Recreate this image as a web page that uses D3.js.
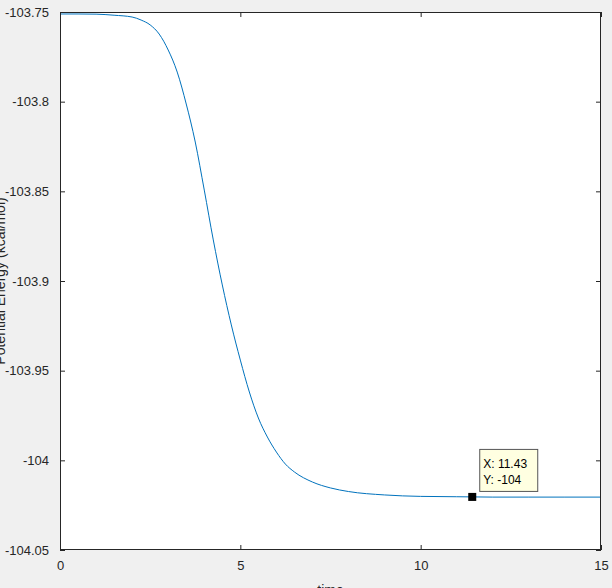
<!DOCTYPE html>
<html>
<head>
<meta charset="utf-8">
<script src="https://cdn.jsdelivr.net/npm/d3@7"></script>
<style>
  html, body { margin: 0; padding: 0; background: #f0f0f0; }
  svg { display: block; font-family: "Liberation Sans", Arial, sans-serif; }
</style>
</head>
<body>
<svg id="chart" width="612" height="588"></svg>
<script>
// ---- data ----
const timeValues = [0, 0.5, 1, 1.5, 2, 2.25, 2.5, 2.75, 3, 3.25, 3.5, 3.75, 4, 4.25, 4.5, 4.75, 5, 5.25, 5.5, 5.75, 6, 6.25, 6.5, 7, 7.5, 8, 9, 10, 11, 12, 13, 14, 15];
const energyValues = [-103.7511, -103.7511, -103.7512, -103.7518, -103.7528, -103.7545, -103.7572, -103.7623, -103.7712, -103.7835, -103.8013, -103.8225, -103.8493, -103.8771, -103.9022, -103.9245, -103.9441, -103.9619, -103.9764, -103.9870, -103.9954, -104.0021, -104.0065, -104.0121, -104.0154, -104.0174, -104.0193, -104.0201, -104.0203, -104.0205, -104.0205, -104.0205, -104.0205];
const xTicks = [0, 5, 10, 15];
const yTicks = [-103.75, -103.8, -103.85, -103.9, -103.95, -104, -104.05];
const yTickLabels = ["-103.75", "-103.8", "-103.85", "-103.9", "-103.95", "-104", "-104.05"];
const datatipPoint = { x: 11.43, y: -104.0204 };
const datatipLines = ["X: 11.43", "Y: -104"];
const xLabel = "time";
const yLabel = "Potential Energy (kcal/mol)";

// ---- layout ----
const svg = d3.select("#chart");
const L = 60, R = 601, T = 12, B = 550;
const x = d3.scaleLinear().domain([0, 15]).range([L, R]);
const y = d3.scaleLinear().domain([-104.05, -103.75]).range([B, T]);
const axisColor = "#262626";

svg.append("rect").attr("x", L).attr("y", T).attr("width", R - L).attr("height", B - T).attr("fill", "#ffffff");

const data = timeValues.map((t, i) => ({ t, e: energyValues[i] }));

// line
svg.append("path")
  .datum(data)
  .attr("fill", "none")
  .attr("stroke", "#0072BD")
  .attr("stroke-width", 1)
  .attr("d", d3.line().x(d => x(d.t)).y(d => y(d.e)).curve(d3.curveMonotoneX));

// axes (MATLAB style: ticks inside, box on)
const tickLen = 5;
const gx = svg.append("g").attr("transform", `translate(0,${B})`)
  .call(d3.axisBottom(x).tickValues(xTicks).tickSizeInner(-tickLen).tickSizeOuter(0).tickPadding(11).tickFormat(d3.format("d")));
const gxTop = svg.append("g").attr("transform", `translate(0,${T})`)
  .call(d3.axisTop(x).tickValues(xTicks).tickSizeInner(-tickLen).tickSizeOuter(0).tickFormat(""));
const gy = svg.append("g").attr("transform", `translate(${L},0)`)
  .call(d3.axisLeft(y).tickValues(yTicks).tickSizeInner(-tickLen).tickSizeOuter(0).tickPadding(11)
    .tickFormat((d, i) => yTickLabels[i]));
const gyRight = svg.append("g").attr("transform", `translate(${R},0)`)
  .call(d3.axisRight(y).tickValues(yTicks).tickSizeInner(-tickLen).tickSizeOuter(0).tickFormat(""));

[gx, gxTop, gy, gyRight].forEach(g => {
  g.select(".domain").remove();
  g.selectAll("line").attr("stroke", axisColor).attr("stroke-width", 1);
  g.selectAll("text").attr("fill", axisColor).attr("font-size", 13).attr("font-family", "Liberation Sans, Arial, sans-serif");
});

svg.append("rect").attr("x", L + 0.5).attr("y", T + 0.5).attr("width", R - L - 1).attr("height", B - T - 1)
  .attr("fill", "none").attr("stroke", axisColor).attr("stroke-width", 1);

// axis labels
svg.append("text").attr("x", (L + R) / 2).attr("y", 595).attr("text-anchor", "middle")
  .attr("font-size", 14).attr("fill", axisColor).text(xLabel);
svg.append("text").attr("transform", `translate(5,${(T + B) / 2}) rotate(-90)`).attr("text-anchor", "middle")
  .attr("font-size", 14).attr("fill", axisColor).text(yLabel);

// datatip
const mx = x(datatipPoint.x), my = y(datatipPoint.y);
svg.append("rect").attr("x", mx - 4).attr("y", my - 4).attr("width", 8).attr("height", 8).attr("fill", "#000");
const box = svg.append("g").attr("transform", `translate(${mx + 7},${my - 48})`);
box.append("rect").attr("x", 0.5).attr("y", 0.5).attr("width", 58).attr("height", 42)
  .attr("fill", "#ffffe1").attr("stroke", "#555").attr("stroke-width", 1);
box.selectAll("text.dt").data(datatipLines).enter().append("text")
  .attr("x", 4).attr("y", (d, i) => 19 + i * 16)
  .attr("font-size", 12).attr("fill", "#000").text(d => d);
</script>
</body>
</html>
